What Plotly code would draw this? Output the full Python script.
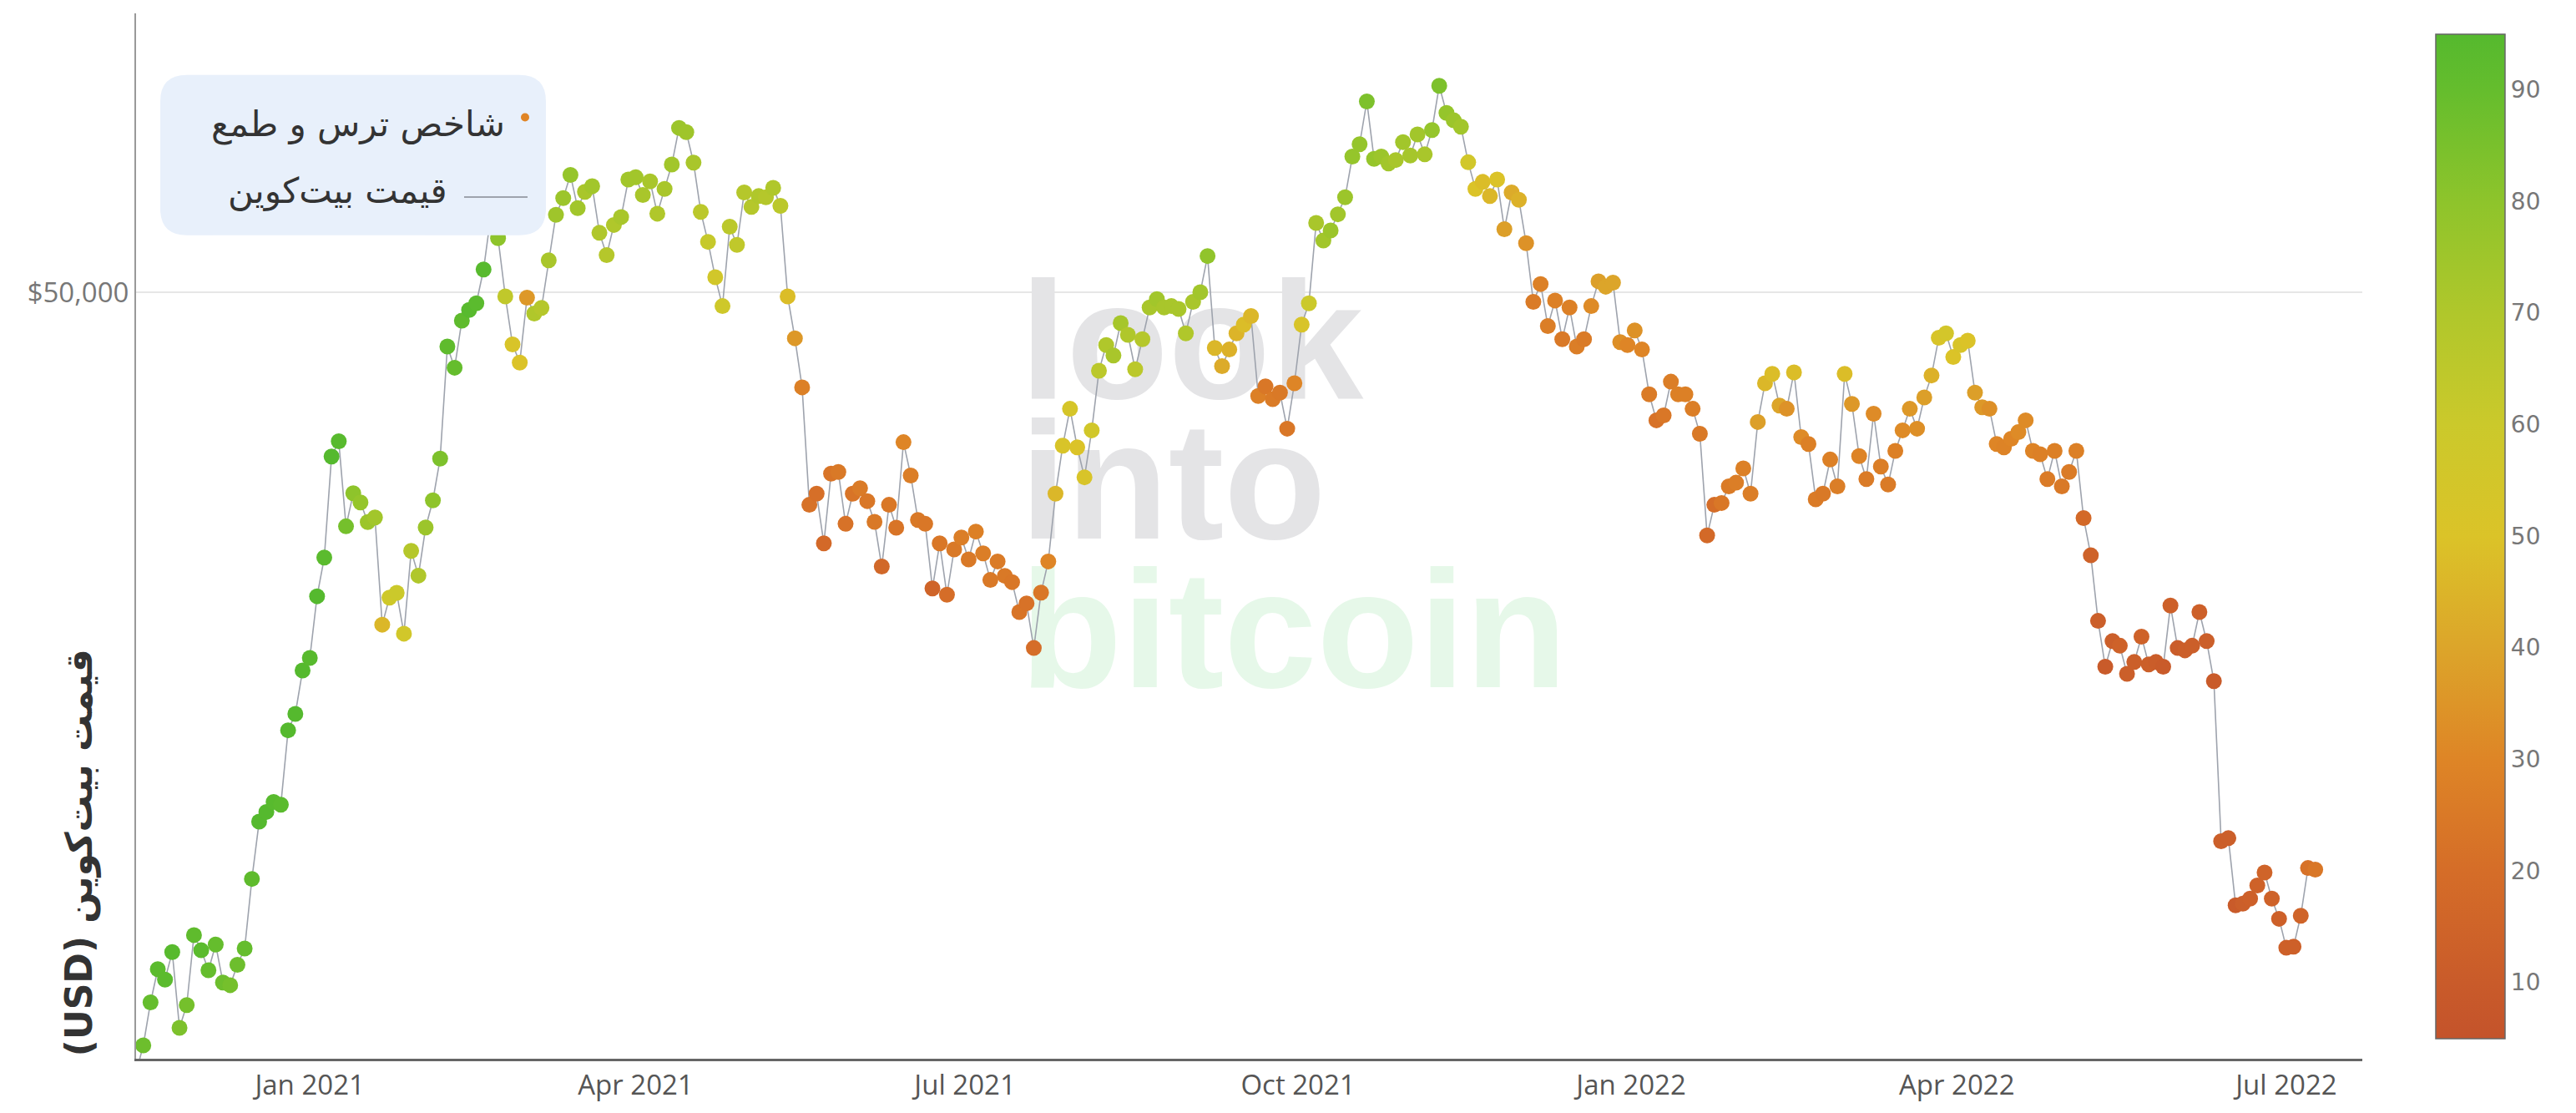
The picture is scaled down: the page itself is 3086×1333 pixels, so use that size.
import plotly.graph_objects as go
import pandas as pd

# ---------------- data (every 2 days, from 2020-11-14) ----------------
start_date = "2020-11-14"

price = [
    # Nov 2020
    16070, 16720, 17800, 18680, 18400, 19150, 17150, 17730, 19630,
    # Dec 2020
    19200, 18650, 19360, 18320, 18250, 18800, 19250, 21300, 23150, 23480, 23820, 23730, 26440, 27080, 28840,
    # Jan 2021
    29370, 32130, 33990, 39370, 40250, 35570, 37320, 36830, 35790, 36030, 30830, 32070, 32290, 30430, 34320, 33110,
    # Feb 2021
    35510, 36940, 39250, 46200, 44800, 47970, 48720, 49200, 51680, 55890, 54090, 49700, 46340, 45140,
    # Mar 2021
    49600, 48470, 48870, 52380, 55960, 57340, 59300, 56500, 57860, 58330, 54510, 52770, 55140, 55780, 58900,
    # Apr 2021
    59100, 57600, 58740, 56050, 58100, 60200, 63500, 63100, 60370, 56200, 53800, 51100, 49000, 55000, 53560,
    # May 2021
    57800, 56600, 57500, 57400, 58200, 56700, 49700, 46760, 43540, 36700, 37300, 34700, 38400, 38500, 35700, 37300,
    # Jun 2021
    37600, 36900, 35800, 33550, 36700, 35500, 40200, 38300, 35900, 35700, 32500, 34700, 32200, 34400, 35000,
    # Jul 2021
    33900, 35300, 34200, 32900, 33800, 33100, 32800, 31400, 31800, 29800, 32300, 33800, 37300, 40000, 42200,
    # Aug 2021
    39900, 38200, 40900, 44600, 46300, 45600, 47800, 47000, 44700, 46700, 48900, 49500, 48900, 49000, 48800, 47100,
    # Sep 2021
    49300, 50000, 52700, 46100, 44900, 46000, 47100, 47700, 48300, 43000, 43600, 42800, 43200, 41000, 43800,
    # Oct 2021
    47700, 49200, 55300, 53900, 54700, 56000, 57400, 60900, 62000, 65990, 60700, 60900, 60300, 60600, 62200,
    # Nov 2021
    61000, 62900, 61100, 63300, 67500, 64900, 64200, 63600, 60400, 58100, 58700, 57500, 58900, 54800, 57800,
    # Dec 2021
    57200, 53700, 49300, 50600, 47600, 49400, 46700, 48900, 46200, 46700, 49000, 50800, 50400, 50700, 46500, 46300,
    # Jan 2022
    47300, 46000, 43100, 41500, 41800, 43900, 43100, 43100, 42200, 40700, 35100, 36700, 36800, 37700, 37900,
    # Feb 2022
    38700, 37300, 41400, 43800, 44400, 42400, 42200, 44500, 40500, 40100, 37000, 37300, 39200, 37700,
    # Mar 2022
    44400, 42500, 39400, 38100, 41900, 38800, 37800, 39700, 40900, 42200, 41000, 42900, 44300, 46800, 47100, 45500,
    # Apr 2022
    46300, 46600, 43200, 42300, 42200, 40100, 39900, 40400, 40800, 41500, 39700, 39500, 38100, 39700, 37700,
    # May 2022
    38500, 39700, 36000, 34100, 31000, 29000, 30100, 29900, 28700, 29200, 30300, 29100, 29200, 29000, 31700,
    # Jun 2022
    29800, 29700, 29900, 31400, 30100, 28400, 22500, 22600, 20500, 20550, 20700, 21100, 21500, 20700, 20100,
    # Jul 2022
    19270, 19300, 20190, 21640, 21590,
]

fear_greed = [
    # Nov 2020
    86, 88, 90, 93, 93, 94, 84, 86, 92,
    # Dec 2020
    93, 90, 90, 88, 86, 88, 90, 92, 95, 95, 94, 93, 95, 95, 95,
    # Jan 2021
    94, 95, 93, 95, 94, 86, 80, 78, 76, 74, 46, 58, 60, 56, 68, 70,
    # Feb 2021
    76, 80, 84, 92, 90, 92, 94, 93, 94, 95, 80, 64, 52, 50,
    # Mar 2021
    36, 70, 68, 72, 75, 76, 78, 74, 72, 74, 70, 68, 70, 72, 74,
    # Apr 2021
    74, 72, 72, 70, 72, 74, 76, 75, 72, 66, 62, 56, 58, 66, 64,
    # May 2021
    68, 68, 70, 68, 70, 66, 48, 36, 28, 22, 21, 18, 23, 25, 22, 23,
    # Jun 2021
    26, 24, 25, 17, 24, 23, 30, 27, 25, 24, 15, 24, 20, 25, 27,
    # Jul 2021
    25, 28, 27, 25, 26, 25, 24, 23, 22, 20, 24, 30, 46, 52, 54,
    # Aug 2021
    50, 52, 56, 66, 70, 72, 73, 70, 66, 68, 72, 74, 72, 72, 72, 70,
    # Sep 2021
    72, 74, 79, 46, 42, 44, 45, 48, 46, 28, 24, 26, 25, 24, 30,
    # Oct 2021
    52, 60, 72, 74, 76, 74, 76, 78, 78, 84, 78, 76, 74, 72, 74,
    # Nov 2021
    73, 74, 72, 78, 84, 78, 76, 74, 56, 50, 48, 46, 50, 38, 42,
    # Dec 2021
    44, 34, 26, 28, 27, 28, 25, 28, 27, 26, 32, 38, 40, 40, 33, 30,
    # Jan 2022
    34, 30, 26, 22, 24, 27, 28, 28, 27, 25, 18, 20, 24, 26, 27,
    # Feb 2022
    28, 27, 38, 46, 48, 40, 34, 48, 32, 28, 26, 25, 28, 27,
    # Mar 2022
    48, 36, 29, 26, 32, 27, 26, 28, 32, 36, 33, 38, 44, 52, 55, 50,
    # Apr 2022
    52, 50, 38, 36, 33, 30, 29, 30, 32, 32, 29, 28, 26, 28, 25,
    # May 2022
    26, 28, 18, 14, 12, 10, 12, 14, 12, 12, 14, 12, 11, 10, 13,
    # Jun 2022
    11, 12, 12, 13, 12, 10, 12, 12, 10, 12, 13, 14, 15, 14, 13,
    # Jul 2022
    13, 13, 15, 22, 24,
]

assert len(price) == len(fear_greed)
dates = pd.date_range(start_date, periods=len(price), freq="2D")

colorbar_ticks = [10, 20, 30, 40, 50, 60, 70, 80, 90]
y_tick_vals = [50000]
y_tick_text = ["$50,000"]

legend_fg = "شاخص ترس و طمع"
legend_price = "قیمت بیت\u200cکوین"
y_title = "\u202bقیمت بیت\u200cکوین (USD)\u202c"
watermark_words = ["look", "into", "bitcoin"]

# ---------------- styling ----------------
colorscale = [
    [0.000, "#c4532b"], [0.056, "#c95b2a"], [0.167, "#d56d28"], [0.278, "#de8526"],
    [0.389, "#dca52a"], [0.500, "#dbc328"], [0.611, "#cbc92b"], [0.722, "#b0c72b"],
    [0.833, "#8ec42b"], [0.944, "#65bd2d"], [1.000, "#55b92e"],
]

W, H = 3086, 1333
ML, MR, MT, MB = 163, 256, 16, 59
PW, PH = W - ML - MR, H - MT - MB


def px(xp):
    return (xp - ML) / PW


def py(yp):
    return 1 - (yp - MT) / PH


fig = go.Figure()

# watermark (on hidden base axes so it sits under the data)
fig.add_trace(go.Scatter(
    x=[px(1222)] * 3, y=[py(429), py(598), py(777)],
    mode="text", text=watermark_words, textposition="middle right",
    textfont=dict(family="Liberation Sans", size=200, weight="bold",
                  color=["#e4e4e6", "#e4e4e6", "#e6f8e9"]),
    xaxis="x", yaxis="y", hoverinfo="skip", showlegend=False,
))

fig.add_trace(go.Scatter(
    x=dates, y=price, mode="lines",
    line=dict(color="#9ea3ad", width=1.6),
    xaxis="x2", yaxis="y2", hoverinfo="skip", showlegend=False, name=legend_price,
))

fig.add_trace(go.Scatter(
    x=dates, y=price, mode="markers", name=legend_fg,
    marker=dict(
        size=19, color=fear_greed, colorscale=colorscale, cmin=5, cmax=95,
        line=dict(width=0),
        colorbar=dict(
            thickness=83, len=1203, lenmode="pixels", y=0.5, yanchor="middle",
            x=1 + 88 / PW, xanchor="left", xpad=0, ypad=0,
            outlinewidth=1.5, outlinecolor="#666666",
            tickvals=colorbar_ticks, ticks="",
            tickfont=dict(family="DejaVu Sans", size=28, color="#777777"),
        ),
    ),
    xaxis="x2", yaxis="y2", showlegend=False,
))

fig.update_layout(
    width=W, height=H,
    margin=dict(l=ML, r=MR, t=MT, b=MB),
    paper_bgcolor="white", plot_bgcolor="white",
    showlegend=False,
    xaxis=dict(range=[0, 1], visible=False, fixedrange=True),
    yaxis=dict(range=[0, 1], visible=False, fixedrange=True),
    xaxis2=dict(
        overlaying="x", anchor="y2", side="bottom", type="date",
        range=["2020-11-14", "2022-07-22"],
        tick0="2021-01-01", dtick="M3", tickformat="%b %Y",
        showgrid=False, zeroline=False, ticks="",
        showline=True, linecolor="#666666", linewidth=3,
        tickfont=dict(family="Open Sans", size=33, color="#555555"),
    ),
    yaxis2=dict(
        overlaying="y", anchor="x2", side="left", type="log",
        range=[4.2148, 4.8751],
        tickvals=y_tick_vals, ticktext=y_tick_text,
        showgrid=True, gridcolor="#e6e6e6", gridwidth=2, zeroline=False,
        showline=True, linecolor="#999999", linewidth=2, ticks="",
        tickfont=dict(family="Open Sans", size=33, color="#777777"),
    ),
)

# ---------------- custom RTL legend ----------------
x0, x1 = px(192), px(654)
yt, yb = py(90), py(283)
rx, ry = 32 / PW, 32 / PH
path = (f"M {x0+rx},{yt} L {x1-rx},{yt} Q {x1},{yt} {x1},{yt-ry} "
        f"L {x1},{yb+ry} Q {x1},{yb} {x1-rx},{yb} L {x0+rx},{yb} "
        f"Q {x0},{yb} {x0},{yb+ry} L {x0},{yt-ry} Q {x0},{yt} {x0+rx},{yt} Z")
fig.add_shape(type="path", path=path, xref="paper", yref="paper",
              fillcolor="#e8f0fb", line=dict(width=0), layer="above")
dx, dy = 5 / PW, 5 / PH
fig.add_shape(type="circle", xref="paper", yref="paper",
              x0=px(629) - dx, x1=px(629) + dx, y0=py(141) - dy, y1=py(141) + dy,
              fillcolor="#e08526", line=dict(width=0), layer="above")
fig.add_shape(type="line", xref="paper", yref="paper",
              x0=px(556), x1=px(632), y0=py(237), y1=py(237),
              line=dict(color="#9ea3ad", width=2), layer="above")

fig.add_annotation(text=legend_fg, x=px(607), y=py(150), xref="paper", yref="paper",
                   xanchor="right", yanchor="middle", showarrow=False,
                   font=dict(family="DejaVu Sans", size=42, color="#333333"))
fig.add_annotation(text=legend_price, x=px(538), y=py(230), xref="paper", yref="paper",
                   xanchor="right", yanchor="middle", showarrow=False,
                   font=dict(family="DejaVu Sans", size=42, color="#333333"))

# y-axis title
fig.add_annotation(text=y_title, x=px(95), y=py(1026), xref="paper", yref="paper",
                   xanchor="center", yanchor="middle", textangle=-90, showarrow=False,
                   font=dict(family="DejaVu Sans", size=44, color="#333333", weight="bold"))

fig.write_html("out.html", config={"displayModeBar": False},
               post_script="document.body.style.margin='0px';")
